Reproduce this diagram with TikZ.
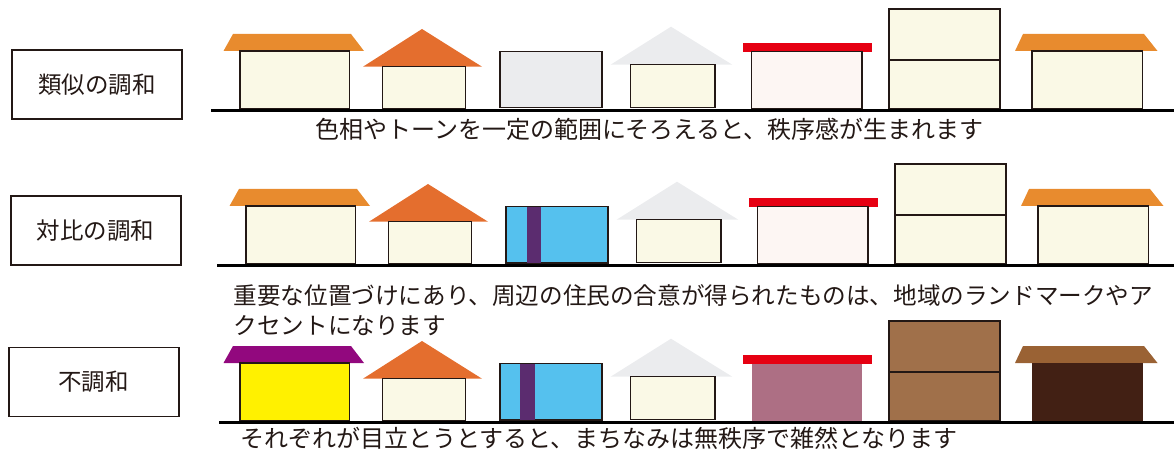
\documentclass[tikz,border=0pt]{standalone}
\usepackage{fontspec}
\newfontfamily\jp{Noto Sans CJK JP}
\definecolor{roofOrange}{RGB}{232,139,46}
\definecolor{roofRust}{RGB}{228,110,46}
\definecolor{cream}{RGB}{250,249,230}
\definecolor{paleGray}{RGB}{235,236,238}
\definecolor{roofRed}{RGB}{230,0,18}
\definecolor{blush}{RGB}{253,246,243}
\definecolor{skyBlue}{RGB}{85,193,238}
\definecolor{stripe}{RGB}{91,44,111}
\definecolor{roofPurple}{RGB}{146,8,126}
\definecolor{lemon}{RGB}{255,241,0}
\definecolor{mauve}{RGB}{173,111,132}
\definecolor{wood}{RGB}{160,112,74}
\definecolor{roofBrown}{RGB}{154,98,52}
\definecolor{darkBrown}{RGB}{66,32,20}
\definecolor{ink}{RGB}{35,24,21}
\begin{document}
\begin{tikzpicture}[x=1pt,y=-1pt,
  wall/.style={draw=ink,line width=1.1pt},
  ground/.style={draw=black,line width=3pt},
  labelbox/.style={draw=ink,line width=1.6pt,minimum width=170pt,minimum height=69pt,
    inner sep=0pt,text=ink,font=\jp\fontsize{23.5}{28}\selectfont},
  caption/.style={anchor=west,inner sep=0pt,text=ink,align=left,
    font=\jp\fontsize{24}{30}\selectfont}]
\useasboundingbox (0,0) rectangle (1174,454);

% ---------- row 1 : similar harmony ----------
\node[labelbox] (lab1) at (97,84.5) {類似の調和};
\fill[roofOrange] (233,34)--(351,34)--(364,51)--(223.5,51)--cycle;
\draw[wall,fill=cream] (240,51) rectangle (349.5,109);
\fill[roofRust] (422,29)--(482,66.7)--(363,66.7)--cycle;
\draw[wall,fill=cream] (382.3,66.7) rectangle (465.5,108.7);
\draw[wall,fill=paleGray] (500,51.3) rectangle (602,107.7);
\fill[paleGray] (671,26.7)--(732.3,64.7)--(610.6,64.7)--cycle;
\draw[wall,fill=cream] (630.5,64.7) rectangle (715,107.3);
\fill[roofRed] (742.6,43) rectangle (872,51.7);
\draw[wall,fill=blush] (751.5,51.7) rectangle (862,109);
\draw[wall,fill=cream] (889,9) rectangle (1000,109);
\draw[wall] (889,60)--(1000,60);
\fill[roofOrange] (1023,34)--(1144,34)--(1157.5,51)--(1015,51)--cycle;
\draw[wall,fill=cream] (1032,51) rectangle (1142.6,109);
\draw[ground] (211,110.3)--(1174,110.3);
\node[caption] (cap1) at (315,129) {色相やトーンを一定の範囲にそろえると、秩序感が生まれます};

% ---------- row 2 : contrast harmony ----------
\node[labelbox] (lab2) at (95.7,230.7) {対比の調和};
\begin{scope}[shift={(6,155)}]
\fill[roofOrange] (233,34)--(351,34)--(364,51)--(223.5,51)--cycle;
\draw[wall,fill=cream] (240,51) rectangle (349.5,109);
\fill[roofRust] (422,29)--(482,66.7)--(363,66.7)--cycle;
\draw[wall,fill=cream] (382.3,66.7) rectangle (465.5,108.7);
\draw[wall,fill=skyBlue] (500,51.3) rectangle (602,108);
\fill[stripe] (520.6,52) rectangle (534.7,107.5);
\fill[paleGray] (671,26.7)--(732.3,64.7)--(610.6,64.7)--cycle;
\draw[wall,fill=cream] (630.5,64.7) rectangle (715,107.3);
\fill[roofRed] (742.6,43) rectangle (872,51.7);
\draw[wall,fill=blush] (751.5,51.7) rectangle (862,109);
\draw[wall,fill=cream] (889,9) rectangle (1000,109);
\draw[wall] (889,60)--(1000,60);
\fill[roofOrange] (1023,34)--(1144,34)--(1157.5,51)--(1015,51)--cycle;
\draw[wall,fill=cream] (1032,51) rectangle (1142.6,109);
\draw[ground] (211,110.3)--(1168,110.3);
\end{scope}
\node[caption,font=\jp\fontsize{23.6}{30}\selectfont] (cap2) at (233.4,310) {重要な位置づけにあり、周辺の住民の合意が得られたものは、地域のランドマークやア\\クセントになります};

% ---------- row 3 : discord ----------
\node[labelbox] (lab3) at (93.7,382) {不調和};
\begin{scope}[shift={(0,312)}]
\fill[roofPurple] (233,34)--(351,34)--(364,51)--(223.5,51)--cycle;
\draw[wall,fill=lemon] (240,51) rectangle (349.5,109);
\fill[roofRust] (422,29)--(482,66.7)--(363,66.7)--cycle;
\draw[wall,fill=cream] (382.3,66.7) rectangle (465.5,108.7);
\draw[wall,fill=skyBlue] (500,51.3) rectangle (602,108);
\fill[stripe] (519.7,52) rectangle (534.6,107.5);
\fill[paleGray] (671,26.7)--(732.3,64.7)--(610.6,64.7)--cycle;
\draw[wall,fill=cream] (630.5,64.7) rectangle (715,107.3);
\fill[roofRed] (742.6,43) rectangle (872,51.7);
\fill[mauve] (751.5,51.7) rectangle (862,109);
\draw[wall,fill=wood] (889,9) rectangle (1000,109);
\draw[wall] (889,60)--(1000,60);
\fill[roofBrown] (1023,34)--(1144,34)--(1157.5,51)--(1015,51)--cycle;
\fill[darkBrown] (1032,51) rectangle (1142.6,109);
\draw[ground] (219,110.3)--(1174,110.3);
\end{scope}
\node[caption] (cap3) at (240,438) {それぞれが目立とうとすると、まちなみは無秩序で雑然となります};
\end{tikzpicture}
\end{document}
